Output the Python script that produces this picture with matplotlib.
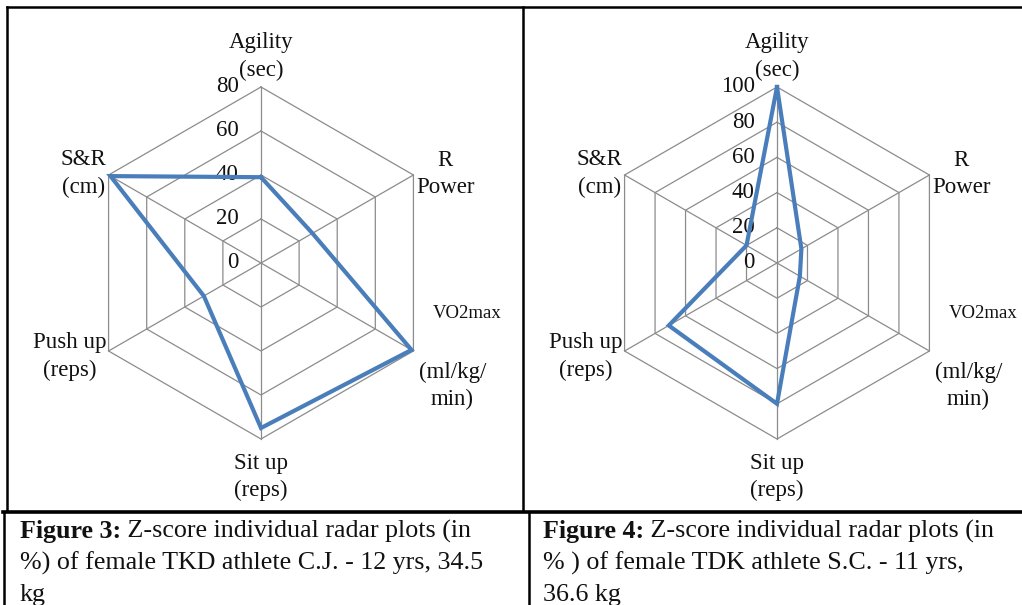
import numpy as np
import matplotlib.pyplot as plt

plt.rcParams['font.family'] = ['Liberation Serif', 'DejaVu Serif']

# axes of the radar, clockwise from the top
labels = ["Agility\n(sec)", "R\nPower", "(ml/kg/\nmin)", "Sit up\n(reps)", "Push up\n(reps)", "S&R\n(cm)"]
vo2_label = "VO2max"

# z-score values (%)
cj_values = [39, 27, 79, 75, 30, 79]
sc_values = [100, 16, 15, 80, 71, 20]

cj_ticks = [0, 20, 40, 60, 80]
sc_ticks = [0, 20, 40, 60, 80, 100]

captions = [
    ("Figure 3:", " Z-score individual radar plots (in", "%) of female TKD athlete C.J. - 12 yrs, 34.5", "kg"),
    ("Figure 4:", " Z-score individual radar plots (in", "% ) of female TDK athlete S.C. - 11 yrs,", "36.6 kg"),
]

W, H = 1022, 605
fig = plt.figure(figsize=(W / 100, H / 100), dpi=100)

grid_col = '#8c8c8c'
line_col = '#4a7ebb'
txt_col = '#111111'
n = len(labels)
angles = np.arange(n) * 2 * np.pi / n
angles_closed = np.append(angles, angles[0])

# offsets (pt) of each label from its outer vertex
lab_off = [(0, 22), (23, 1), (28, -25), (0, -27.5), (-28, -4), (-18, 1)]


def radar(cx, values, ticks):
    R = 176
    cy = 263
    ax = fig.add_axes([(cx - R) / W, 1 - (cy + R) / H, 2 * R / W, 2 * R / H], projection='polar')
    ax.set_theta_offset(np.pi / 2)
    ax.set_theta_direction(-1)
    rmax = ticks[-1]
    ax.set_ylim(0, rmax)
    ax.grid(False)
    ax.set_xticks([])
    ax.set_yticks([])
    ax.spines['polar'].set_visible(False)
    ax.patch.set_visible(False)

    for t in ticks[1:]:
        ax.plot(angles_closed, [t] * (n + 1), color=grid_col, lw=0.9, clip_on=False)
    for a in angles:
        ax.plot([a, a], [0, rmax], color=grid_col, lw=0.9, clip_on=False)

    v = np.append(values, values[0])
    ax.plot(angles_closed, v, color=line_col, lw=3.0, clip_on=False, zorder=5,
            solid_joinstyle='miter')

    for t in ticks:
        ax.annotate(str(t), xy=(0, t), xytext=(-16, 0), textcoords='offset points',
                    ha='right', va='center', fontsize=16.5, color=txt_col)

    for a, lab, off in zip(angles, labels, lab_off):
        ax.annotate(lab, xy=(a, rmax), xytext=off, textcoords='offset points',
                    ha='center', va='center', fontsize=16.5, linespacing=1.38,
                    color=txt_col, annotation_clip=False)
    ax.annotate(vo2_label, xy=(angles[2], rmax), xytext=(39, 27), textcoords='offset points',
                ha='center', va='center', fontsize=13.5, color=txt_col, annotation_clip=False)


radar(261, cj_values, cj_ticks)
radar(777, sc_values, sc_ticks)

# frame and caption area, drawn in pixel coordinates
ov = fig.add_axes([0, 0, 1, 1])
ov.set_xlim(0, W)
ov.set_ylim(H, 0)
ov.axis('off')
ov.patch.set_visible(False)
ov.plot([7, W], [7, 7], color='black', lw=1.8)
ov.plot([7, 7], [7, 511], color='black', lw=1.8)
ov.plot([523, 523], [7, 511], color='black', lw=1.8)
ov.plot([3, W], [512, 512], color='black', lw=2.6)
ov.plot([4, 4], [512, H], color='black', lw=1.8)
ov.plot([529, 529], [512, H], color='black', lw=1.8)

for x0, (bold, rest, l2, l3) in zip([20, 543], captions):
    b = ov.text(x0, 538, bold, fontsize=18.7, fontweight='bold', va='baseline', color=txt_col)
    ov.annotate(rest, xy=(1, 0), xycoords=b, ha='left', va='bottom', fontsize=18.7, color=txt_col)
    ov.text(x0, 570, l2, fontsize=18.7, va='baseline', color=txt_col)
    ov.text(x0, 601, l3, fontsize=18.7, va='baseline', color=txt_col)

fig.savefig('out.png', dpi=100)
